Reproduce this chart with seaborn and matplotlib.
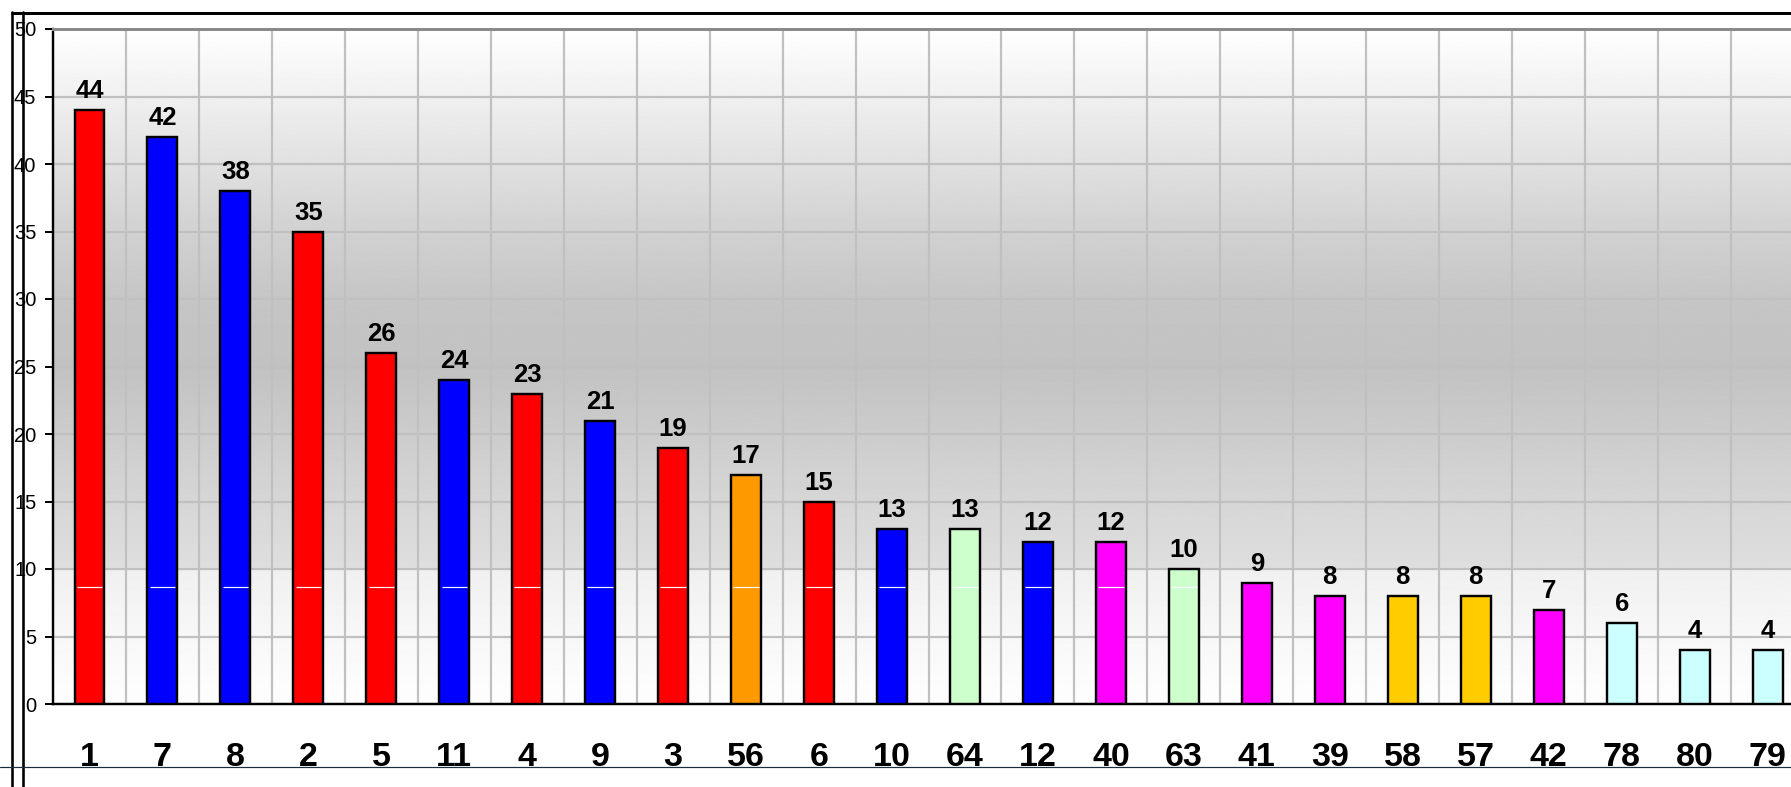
import numpy as np
import pandas as pd
import matplotlib
matplotlib.use("Agg")
import matplotlib.pyplot as plt
from matplotlib.lines import Line2D
import seaborn as sns

# data
labels = ["1", "7", "8", "2", "5", "11", "4", "9", "3", "56", "6", "10",
          "64", "12", "40", "63", "41", "39", "58", "57", "42", "78", "80", "79"]
values = [44, 42, 38, 35, 26, 24, 23, 21, 19, 17, 15, 13,
          13, 12, 12, 10, 9, 8, 8, 8, 7, 6, 4, 4]
colors = ["#ff0000", "#0000ff", "#0000ff", "#ff0000", "#ff0000", "#0000ff",
          "#ff0000", "#0000ff", "#ff0000", "#ff9900", "#ff0000", "#0000ff",
          "#ccffcc", "#0000ff", "#ff00ff", "#ccffcc", "#ff00ff", "#ff00ff",
          "#ffcc00", "#ffcc00", "#ff00ff", "#ccffff", "#ccffff", "#ccffff"]
y_ticks = [0, 5, 10, 15, 20, 25, 30, 35, 40, 45, 50]

# background shading (value -> gray level)
grad_y = [0, 5, 9.9, 10.1, 15, 20, 25, 30, 35, 40, 45, 50]
grad_v = [0.995, 0.97, 0.94, 0.87, 0.84, 0.80, 0.76, 0.775, 0.82, 0.88, 0.94, 1.0]

df = pd.DataFrame({"label": labels, "value": values})

sns.set_style("white")
plt.rcParams['font.family'] = ['Liberation Sans', 'DejaVu Sans']
plt.rcParams['text.color'] = 'black'
plt.rcParams['xtick.color'] = 'black'
plt.rcParams['ytick.color'] = 'black'

W, H = 1791, 787
fig = plt.figure(figsize=(W / 100, H / 100), dpi=100)
px = 72 / 100  # points per pixel

step = 72.96
ax = fig.add_axes([53 / W, (H - 704) / H, len(labels) * step / W, 675 / H])

# gradient background
yy = np.linspace(0, 50, 500)
shade = np.interp(yy, grad_y, grad_v)
ax.imshow(shade[:, None], extent=(-0.5, len(labels) - 0.5, 0, 50), origin="lower",
          aspect="auto", cmap="gray", vmin=0, vmax=1, zorder=0, interpolation="bilinear")

sns.barplot(data=df, x="label", y="value", hue="label", order=labels,
            palette=dict(zip(labels, colors)), width=0.41, edgecolor="black",
            linewidth=2.4 * px, legend=False, saturation=1, ax=ax, zorder=3)

# white streak artefact on taller bars
for p in ax.patches:
    if p.get_height() > 9.5:
        ax.plot([p.get_x() + 0.03, p.get_x() + p.get_width() - 0.03], [8.7, 8.7],
                color="white", lw=1.2 * px, zorder=4, solid_capstyle="butt")

for c in ax.containers:
    ax.bar_label(c, fmt="%d", padding=5, fontsize=18.5, fontweight="bold",
                 color="black", zorder=5)

ax.set_xlim(-0.5, len(labels) - 0.5)
ax.set_ylim(0, 50)
ax.set_yticks(y_ticks, [str(v) for v in y_ticks], fontsize=14.5, color="black")
ax.set_xticks(np.arange(len(labels)), labels, fontsize=24.5, fontweight="bold",
              color="black")
ax.set_xticks(np.arange(len(labels) + 1) - 0.5, minor=True)
ax.set_xlabel("")
ax.set_ylabel("")

ax.set_axisbelow(True)
ax.grid(False)
ax.yaxis.grid(True, color="#c0c0c0", lw=2.2 * px)
ax.xaxis.grid(True, which="minor", color="#c0c0c0", lw=2.2 * px)

ax.tick_params(axis="x", which="major", length=0, pad=27)
ax.tick_params(axis="x", which="minor", length=9 * px * 1.4, width=2 * px,
               direction="out", color="black")
ax.tick_params(axis="y", length=6 * px * 1.4, width=2 * px, direction="out",
               color="black", pad=6, left=True)

for s in ["left", "bottom"]:
    ax.spines[s].set_color("black")
    ax.spines[s].set_linewidth(2.4 * px)
ax.spines["top"].set_color("#8a8a8a")
ax.spines["top"].set_linewidth(3 * px)
ax.spines["right"].set_visible(False)

# outer frame lines in figure pixels
def fig_line(x0, y0, x1, y1, **kw):
    fig.add_artist(Line2D([x0 / W, x1 / W], [1 - y0 / H, 1 - y1 / H],
                          transform=fig.transFigure, **kw))

fig_line(12, 13, W, 13, color="black", lw=3 * px)
fig_line(12, 12, 12, H, color="black", lw=2.6 * px)
fig_line(23, 12, 23, H, color="black", lw=2.6 * px)
fig_line(0, 767, W, 767, color="#1e2d3c", lw=1.2 * px)

fig.savefig("out.png", dpi=100)
